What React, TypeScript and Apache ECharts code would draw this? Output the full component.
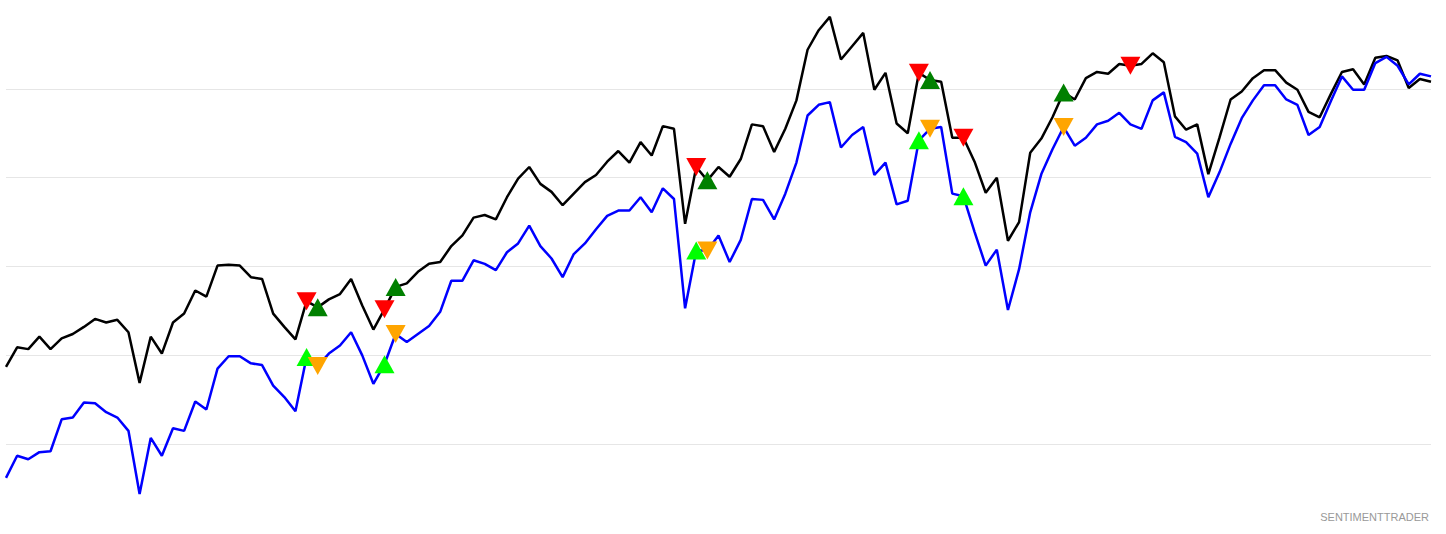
import React, { useEffect, useRef } from "react";
import * as echarts from "echarts";

const categories: string[] = Array.from({ length: 129 }, (_, i) => String(i + 1));

const blackLine: number[] = [
  187, 209, 207, 221, 207, 219, 224, 232, 241, 237, 240, 226, 169, 221, 202, 237, 247, 273, 266, 301,
  302, 301, 288, 286, 247, 232, 218, 261, 254, 263, 269, 286, 256, 229, 252, 277, 281, 294, 303, 305,
  323, 335, 355, 358, 353, 378, 399, 412, 393, 384, 369, 382, 395, 403, 418, 430, 417, 440, 425, 458,
  455, 348, 412, 397, 412, 401, 421, 460, 458, 429, 455, 487, 544, 566, 581, 533, 548, 563, 499, 518,
  461, 450, 518, 510, 508, 445, 445, 418, 383, 400, 329, 350, 428, 444, 468, 496, 488, 512, 519, 517,
  528, 526, 528, 540, 530, 469, 454, 460, 404, 445, 488, 497, 512, 521, 521, 507, 499, 474, 468, 494,
  519, 522, 505, 535, 537, 532, 501, 511, 508,
];

const blueLine: number[] = [
  62, 87, 83, 91, 92, 128, 130, 147, 146, 136, 130, 115, 44, 107, 87, 118, 115, 148, 139, 185,
  199, 199, 191, 189, 166, 153, 137, 198, 188, 202, 211, 226, 200, 168, 190, 224, 215, 224, 233, 249,
  284, 284, 307, 303, 296, 316, 326, 346, 323, 309, 288, 314, 326, 342, 357, 363, 363, 378, 361, 388,
  376, 253, 318, 318, 335, 305, 330, 376, 375, 353, 382, 417, 470, 482, 485, 434, 448, 457, 403, 417,
  370, 374, 442, 455, 457, 382, 379, 339, 301, 319, 251, 297, 361, 404, 432, 457, 436, 445, 460, 464,
  473, 460, 455, 487, 496, 446, 440, 427, 378, 406, 438, 467, 487, 504, 504, 488, 482, 448, 457, 486,
  514, 499, 499, 529, 536, 526, 505, 517, 514,
];

const redDownIdx: number[] = [27, 34, 62, 82, 86, 101];
const darkGreenUpIdx: number[] = [28, 35, 63, 83, 95];
const limeUpIdx: number[] = [27, 34, 62, 82, 86];
const orangeDownIdx: number[] = [28, 35, 63, 83, 95];

const yTicks: number[] = [0, 600, 100];
const watermark = "SENTIMENTTRADER";

export default function App() {
  const ref = useRef<HTMLDivElement>(null);
  useEffect(() => {
    if (!ref.current) return;
    const chart = echarts.init(ref.current, undefined, { renderer: "svg" });
    const pts = (idx: number[], src: number[]) => idx.map((i) => [i, src[i]]);
    const marker = (name: string, data: number[][], color: string, down: boolean) => ({
      name,
      type: "scatter",
      data,
      symbol: "triangle",
      symbolSize: [20, 18],
      symbolRotate: down ? 180 : 0,
      itemStyle: { color, opacity: 1 },
      z: 5,
      silent: true,
    });
    chart.setOption({
      animation: false,
      grid: { left: 6, right: 15, top: 0, bottom: 1 },
      xAxis: {
        type: "category",
        data: categories,
        boundaryGap: false,
        axisLine: { show: false },
        axisTick: { show: false },
        axisLabel: { show: false },
        splitLine: { show: false },
      },
      yAxis: {
        type: "value",
        min: yTicks[0],
        max: yTicks[1],
        interval: yTicks[2],
        axisLine: { show: false },
        axisTick: { show: false },
        axisLabel: { show: false },
        splitLine: {
          show: true,
          showMinLine: false,
          showMaxLine: false,
          lineStyle: { color: "#e6e6e6", width: 1 },
        },
      },
      series: [
        {
          name: "Black",
          type: "line",
          data: blackLine,
          showSymbol: false,
          symbol: "none",
          lineStyle: { color: "#000000", width: 2.5 },
          z: 2,
        },
        {
          name: "Blue",
          type: "line",
          data: blueLine,
          showSymbol: false,
          symbol: "none",
          lineStyle: { color: "#0000ff", width: 2.5 },
          z: 3,
        },
        marker("Red", pts(redDownIdx, blackLine), "#ff0000", true),
        marker("DarkGreen", pts(darkGreenUpIdx, blackLine), "#008000", false),
        marker("Lime", pts(limeUpIdx, blueLine), "#00ff00", false),
        marker("Orange", pts(orangeDownIdx, blueLine), "#ffa500", true),
      ],
      graphic: [
        {
          type: "text",
          right: 17,
          top: 511,
          style: {
            text: watermark,
            fill: "#999999",
            font: '11px "Liberation Sans", Arial, sans-serif',
          },
        },
      ],
    });
    return () => chart.dispose();
  }, []);
  return (
    <div
      ref={ref}
      style={{ position: "fixed", left: 0, top: 0, width: 1446, height: 534, background: "#fff" }}
    />
  );
}
